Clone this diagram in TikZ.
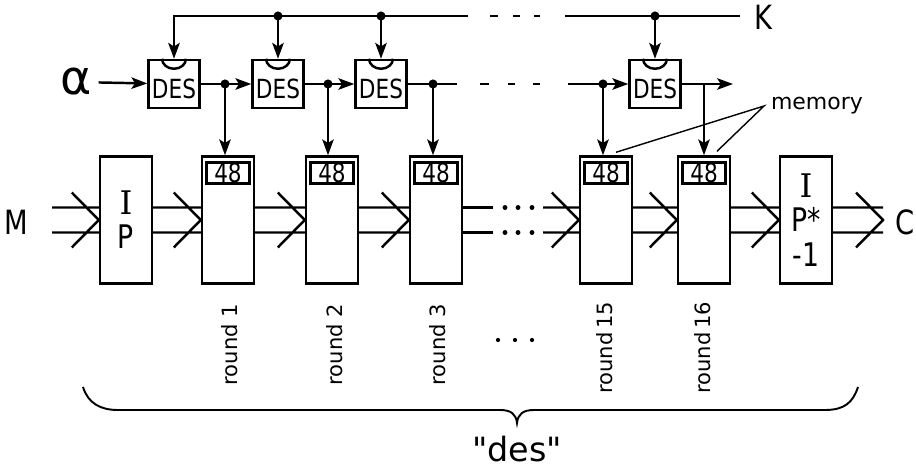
\documentclass[tikz,border=0pt]{standalone}
\usepackage{fontspec}
\setmainfont{DejaVu Sans}[FakeStretch=0.82]
\newfontfamily\widefont{DejaVu Sans}
\newfontfamily\serifI{DejaVu Serif}
\usetikzlibrary{arrows.meta}

% double-line arrow with a big open head, ending on #2
\newcommand{\widearrow}[2]{%
  \draw ([yshift=0.25cm]#1) -- ([yshift=0.25cm]#2)
        ([yshift=-0.25cm]#1) -- ([yshift=-0.25cm]#2)
        ([xshift=-0.54cm,yshift=0.55cm]#2) -- (#2) -- ([xshift=-0.54cm,yshift=-0.55cm]#2);}

\begin{document}
\begin{tikzpicture}[x=0.02cm,y=-0.02cm,line width=1.4pt,
  arr/.style={-{Stealth[length=9pt,width=6.5pt,inset=2pt]}},
  desbox/.style={draw,minimum width=1.02cm,minimum height=0.96cm,inner sep=0pt,
    text height=0.6cm,text depth=0pt,font=\fontsize{15}{15}\selectfont},
  rndbox/.style={draw,minimum width=1.04cm,minimum height=2.54cm,inner sep=0pt,
    align=center,font=\fontsize{18.5}{19.5}\selectfont},
  membox/.style={draw,line width=1.8pt,minimum width=0.86cm,minimum height=0.42cm,
    inner sep=0pt,anchor=north,yshift=-0.12cm,font=\fontsize{15}{15}\selectfont},
  rlabel/.style={rotate=90,anchor=east,font=\widefont\fontsize{12}{12}\selectfont},
  biglabel/.style={font=\fontsize{19}{19}\selectfont}]
\useasboundingbox (0,0) rectangle (916,470);
% DES chain
\node[desbox] (desA) at (174,84) {DES};
\node[desbox] (desB) at (278,84) {DES};
\node[desbox] (desC) at (381,84) {DES};
\node[desbox] (desP) at (655,84) {DES};
\foreach \d in {desA,desB,desC,desP}
  \draw ([xshift=-0.24cm]\d.north) arc[start angle=180,end angle=360,x radius=0.24cm,y radius=0.2cm];
% key line
\coordinate (kL) at (468,16);
\coordinate (kR) at (565,16);
\coordinate (kE) at (740,16);
\node[biglabel,anchor=west] (K) at (747,17) {K};
\draw[arr] (kL) -| (desA.north);
\draw (kR) -- (kE);
\draw (490,16) -- (498,16) (513,16) -- (520,16) (534,16) -- (540,16);
\foreach \d in {desB,desC,desP} {
  \fill (\d.north |- kL) circle (2.6pt);
  \draw[arr] (\d.north |- kL) -- (\d.north);
}
% alpha through the DES boxes
\node[font=\widefont\fontsize{27}{27}\selectfont] (alpha) at (76,82) {α};
\coordinate (mL) at (457,84);
\coordinate (mR) at (568,84);
\coordinate (mE) at (733,84);
\draw[arr] (alpha) -- (desA);
\draw[arr] (desA) -- (desB);
\draw[arr] (desB) -- (desC);
\draw (desC) -- (mL);
\draw (480,84) -- (489,84) (508,84) -- (515,84) (533,84) -- (540,84);
\draw[arr] (mR) -- (desP);
\draw[arr] (desP) -- (mE);
% rounds
\node[rndbox] (IP) at (126,220) {{\serifI I}\\P};
\node[rndbox] (rA) at (228,220) {};
\node[rndbox] (rB) at (332,220) {};
\node[rndbox] (rC) at (436,220) {};
\node[rndbox] (rO) at (606,220) {};
\node[rndbox] (rP) at (704,220) {};
\node[rndbox] (IPi) at (806,220) {{\serifI I}\\P*\\-1};
\foreach \r in {rA,rB,rC,rO,rP}
  \node[membox] (m\r) at (\r.north) {48};
% taps down to the memories
\coordinate (tA) at (225,84);
\coordinate (tB) at (328,84);
\coordinate (tC) at (433,84);
\coordinate (tO) at (603,84);
\coordinate (tP) at (704,84);
\foreach \t/\r in {tA/rA,tB/rB,tC/rC,tO/rO} {
  \fill (\t) circle (2.6pt);
  \draw[arr] (\t) -- (\t |- \r.north);
}
\draw[arr] (tP) -- (tP |- rP.north);
% data path
\node[biglabel] (M) at (16,222) {M};
\node[biglabel] (C) at (905,222) {C};
\coordinate (mIn) at (52,220);
\coordinate (cOut) at (883,220);
\coordinate (gL) at (493,220);
\coordinate (gR) at (543,220);
\widearrow{mIn}{IP.west}
\widearrow{IP.east}{rA.west}
\widearrow{rA.east}{rB.west}
\widearrow{rB.east}{rC.west}
\draw ([yshift=0.25cm]rC.east) -- ([yshift=0.25cm]gL)
      ([yshift=-0.25cm]rC.east) -- ([yshift=-0.25cm]gL);
\foreach \x in {505,518,532} {
  \fill (\x,207.5) circle (1.4pt);
  \fill (\x,232.5) circle (1.4pt);
}
\widearrow{gR}{rO.west}
\widearrow{rO.east}{rP.west}
\widearrow{rP.east}{IPi.west}
\widearrow{IPi.east}{cOut}
% memory label
\node[anchor=west,font=\widefont\fontsize{12.5}{12}\selectfont] (mem) at (764,106) {memory};
\draw[line width=0.8pt] ([xshift=0.2cm,yshift=0.06cm]rO.north) -- (mem.west)
  -- ([xshift=0.26cm,yshift=0.08cm]rP.north);
% round labels
\node[rlabel] (lA) at (230,297) {round 1};
\node[rlabel] (lB) at (335,297) {round 2};
\node[rlabel] (lC) at (438,297) {round 3};
\node[rlabel] (lO) at (605,295) {round\,15};
\node[rlabel] (lP) at (703,295) {round\,16};
\foreach \x in {498,515,532}
  \fill (\x,340) circle (1.2pt);
% brace
\draw[line width=1.1pt] (83,387) .. controls (88,403) and (100,410) .. (118,410) -- (500,410)
  .. controls (511,410) and (516,414) .. (517,423)
  .. controls (518,414) and (523,410) .. (534,410) -- (825,410)
  .. controls (845,410) and (853,402) .. (858,387);
\node[font=\widefont\fontsize{19}{19}\selectfont] (des) at (517,449) {"des"};
\end{tikzpicture}
\end{document}
